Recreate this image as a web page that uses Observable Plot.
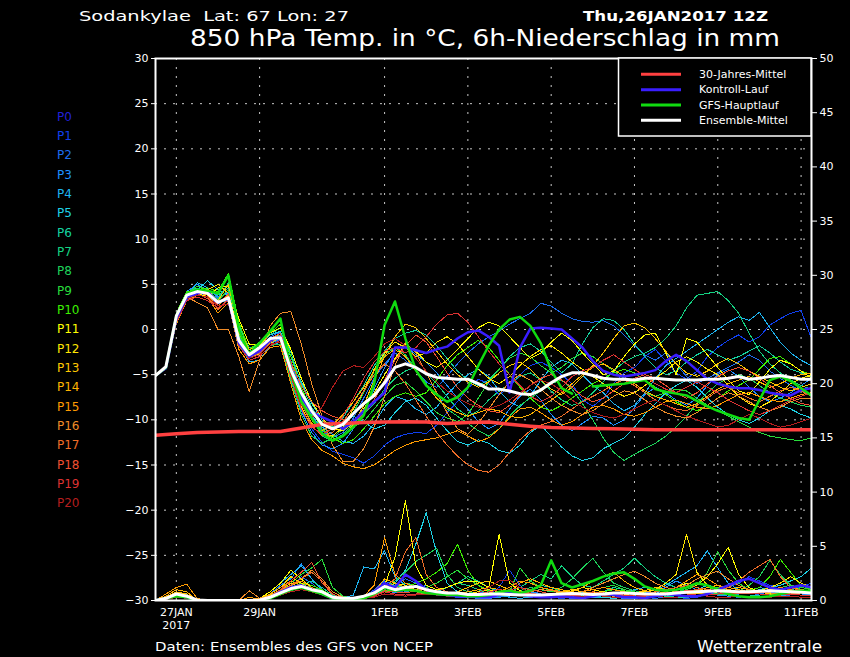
<!DOCTYPE html>
<html><head><meta charset="utf-8">
<script src="https://cdn.jsdelivr.net/npm/d3@7"></script>
<script src="https://cdn.jsdelivr.net/npm/@observablehq/plot@0.6"></script>
<style>
html,body{margin:0;padding:0;background:#000;}
#chart{width:850px;height:657px;position:relative;overflow:hidden;background:#000;}
</style></head><body><div id="chart"></div>
<script>
// ---------- DATA (6-hourly from Thu 26JAN2017 12Z) ----------
const memberNames = ["P0","P1","P2","P3","P4","P5","P6","P7","P8","P9","P10","P11","P12","P13","P14","P15","P16","P17","P18","P19","P20"];
const memberColors = ["#2020d8","#1040f0","#1e6ef0","#1e90ff","#1eb4f0","#1ed2e6","#14d2a0","#14d282","#1ed25a","#28dc3c","#3cf000","#ffff00","#ffe600","#ffc800","#ffb400","#ff9b00","#f08c28","#f06e28","#f05032","#dc3232","#b41e1e"];
const xTickDates = ["2017-01-27","2017-01-29","2017-02-01","2017-02-03","2017-02-05","2017-02-07","2017-02-09","2017-02-11"];
const xTickLabels = ["27JAN\n2017","29JAN","1FEB","3FEB","5FEB","7FEB","9FEB","11FEB"];
const tempTicks = [-30,-25,-20,-15,-10,-5,0,5,10,15,20,25,30];
const precipTicks = [0,5,10,15,20,25,30,35,40,45,50];
const legendLabels = ["30-Jahres-Mittel","Kontroll-Lauf","GFS-Hauptlauf","Ensemble-Mittel"];
const legendColors = ["#ff4040","#3a1eff","#10dc10","#ffffff"];

// Kontroll-Lauf (P0)
const t00 = [-5.1,-4.3,1.2,3.6,4.0,4.2,3.0,3.4,-1.5,-3.0,-2.4,-1.2,-0.8,-4.2,-7.5,-9.2,-9.7,-10.2,-11.0,-10.2,-9.0,-8.0,-7.0,-2.0,-2.0,-2.3,-2.6,-2.2,-1.9,-1.0,-0.3,-0.1,-0.8,-1.8,-7.0,-2.0,0.1,0.2,0.1,0.0,-1.0,-2.0,-3.5,-4.6,-5.0,-5.2,-5.0,-4.8,-4.5,-3.5,-2.8,-3.5,-4.5,-5.5,-6.0,-6.3,-6.5,-6.5,-6.7,-7.0,-7.2,-7.3,-6.7,-6.5,-6.5];
const t01 = [-5.1,-4.4,0.8,3.2,4.0,3.8,2.8,3.6,-1.8,-3.2,-2.5,-1.4,-1.2,-5.0,-8.5,-11.0,-12.5,-13.5,-13.8,-14.2,-14.8,-14.0,-12.8,-12.0,-11.6,-11.4,-11.5,-10.6,-9.2,-8.0,-6.5,-5.5,-6.0,-7.2,-6.4,-5.0,-4.0,-3.6,-4.2,-5.0,-6.0,-7.8,-8.5,-7.6,-6.0,-4.8,-4.2,-3.0,-2.2,-3.5,-4.8,-5.5,-4.6,-3.0,-2.0,-1.2,-0.6,-1.4,-0.8,0.5,1.2,1.8,2.1,-1.0,-1.5];
const t02 = [-5.1,-4.3,1.2,3.8,4.5,4.1,3.5,4.2,-0.5,-2.4,-2.0,-0.8,-0.3,-3.5,-6.8,-9.5,-11.2,-12.0,-11.4,-9.8,-7.6,-5.4,-3.8,-2.6,-3.4,-4.5,-5.8,-6.4,-5.2,-3.8,-2.6,-1.6,-0.8,-0.2,0.6,1.2,1.8,2.9,2.6,1.8,1.2,0.9,0.8,1.0,0.4,-0.6,-1.8,-2.8,-3.4,-2.6,-3.8,-5.2,-6.0,-5.4,-4.8,-4.2,-3.6,-2.8,-3.4,-4.6,-5.4,-6.2,-6.8,-7.2,-7.0];
const t03 = [-5.1,-4.2,1.4,4.2,5.0,4.4,3.6,4.0,-0.8,-2.6,-2.6,-1.6,-1.0,-5.4,-9.0,-11.4,-12.8,-13.2,-12.6,-11.0,-9.2,-6.6,-4.2,-2.2,-1.8,-2.8,-3.6,-4.8,-6.2,-7.6,-8.8,-10.2,-11.0,-10.4,-8.8,-7.4,-6.6,-7.8,-9.4,-10.6,-11.2,-10.4,-9.6,-9.8,-10.6,-10.0,-8.6,-7.2,-6.4,-7.0,-7.8,-8.4,-7.6,-6.2,-5.0,-4.4,-5.2,-6.4,-7.4,-8.0,-7.6,-7.0,-6.2,-5.4,-5.0];
const t04 = [-5.1,-4.3,1.0,3.6,5.2,4.6,3.0,3.4,-1.2,-3.6,-3.4,-1.8,-1.4,-4.6,-7.8,-9.6,-10.8,-11.6,-12.4,-12.6,-11.8,-10.4,-8.6,-7.4,-7.8,-8.8,-9.4,-8.6,-7.2,-6.0,-5.0,-4.4,-5.2,-6.8,-8.0,-8.6,-7.4,-5.6,-4.2,-3.4,-3.8,-5.0,-6.2,-7.0,-8.2,-9.0,-8.4,-7.0,-5.4,-4.0,-3.2,-2.4,-1.6,-0.8,0.0,0.8,1.4,1.0,1.9,0.2,-1.4,-2.6,-3.4,-4.0,-4.2];
const t05 = [-5.1,-4.4,0.6,3.4,4.4,5.4,4.4,3.8,-0.4,-2.2,-1.6,-0.6,-0.2,-3.0,-5.8,-8.2,-10.0,-10.8,-10.2,-9.6,-10.2,-11.0,-10.6,-9.2,-8.0,-7.6,-8.4,-9.8,-11.2,-12.4,-12.8,-12.2,-12.6,-13.4,-13.7,-12.8,-11.4,-10.6,-11.8,-13.0,-14.0,-14.5,-14.2,-13.2,-12.6,-12.0,-10.8,-9.4,-8.2,-7.0,-6.2,-5.6,-6.4,-7.6,-8.6,-9.4,-10.0,-10.4,-9.8,-9.0,-8.4,-8.8,-9.4,-9.8,-10.0];
const t06 = [-5.1,-4.2,1.6,4.0,4.6,4.2,3.8,4.6,0.4,-2.0,-1.8,-0.6,0.2,-2.6,-6.0,-8.6,-10.4,-10.8,-9.8,-8.0,-6.2,-4.0,-2.4,-1.0,-0.4,-0.1,-0.6,-1.8,-3.2,-4.6,-5.6,-6.2,-5.6,-4.4,-3.0,-2.0,-1.6,-2.4,-3.6,-4.8,-3.8,-1.6,0.2,1.2,1.0,0.0,-1.6,-3.0,-4.2,-5.0,-4.6,-3.6,-2.8,-2.2,-2.8,-3.4,-3.0,-2.4,-1.8,-2.6,-3.6,-4.4,-4.8,-5.2,-5.4];
const t07 = [-5.1,-4.3,1.0,3.6,4.2,3.8,3.4,5.2,-0.2,-2.6,-2.2,-1.2,-0.6,-3.6,-7.2,-9.8,-11.8,-12.4,-11.6,-10.4,-9.4,-8.2,-6.6,-5.4,-4.6,-4.2,-4.8,-6.0,-7.4,-8.8,-9.6,-9.0,-7.8,-6.8,-6.0,-5.2,-4.8,-5.6,-6.8,-7.8,-8.4,-8.0,-7.0,-5.8,-4.6,-3.6,-3.0,-2.6,-2.0,-1.0,0.4,2.4,3.8,4.0,4.2,3.2,1.8,-0.4,-2.4,-3.8,-4.8,-5.6,-6.2,-6.6,-6.8];
const t08 = [-5.1,-4.4,1.2,3.8,4.0,4.0,3.0,3.2,-1.6,-3.4,-3.0,-1.8,-1.6,-5.6,-9.4,-11.8,-12.6,-12.0,-11.0,-9.2,-7.0,-4.6,-2.8,-2.0,-2.8,-4.4,-6.0,-7.6,-8.8,-9.6,-10.4,-11.2,-11.8,-11.0,-9.6,-8.4,-7.6,-6.8,-6.0,-5.6,-6.6,-8.2,-10.0,-12.0,-13.6,-14.5,-13.8,-13.2,-12.6,-11.8,-10.8,-9.6,-8.2,-7.0,-6.0,-5.4,-5.0,-5.4,-6.2,-7.0,-7.6,-8.0,-8.4,-8.6,-8.6];
const t09 = [-5.1,-4.3,1.4,4.0,4.8,4.4,3.2,4.4,-0.6,-2.8,-2.4,-1.0,-0.4,-4.2,-7.6,-9.4,-10.2,-10.4,-10.6,-10.8,-10.2,-8.8,-7.4,-6.2,-5.8,-6.8,-8.0,-9.2,-9.8,-10.2,-9.4,-7.6,-5.8,-4.4,-3.2,-2.6,-3.0,-4.0,-4.8,-4.2,-3.2,-2.6,-3.0,-3.8,-4.6,-5.4,-6.2,-7.0,-7.4,-7.0,-6.6,-6.8,-7.6,-8.4,-9.0,-9.6,-10.2,-10.8,-11.4,-11.8,-12.0,-12.2,-12.3,-12.0,-11.8];
const t10 = [-5.1,-4.2,1.8,4.2,4.4,4.6,4.2,6.2,0.8,-2.2,-1.4,-0.4,0.6,-3.0,-6.4,-9.0,-11.0,-12.0,-12.6,-12.2,-11.0,-9.6,-8.2,-7.4,-7.0,-7.4,-7.0,-5.6,-4.0,-2.8,-2.0,-1.2,-2.0,-3.4,-5.0,-6.4,-7.6,-8.6,-9.0,-8.4,-7.6,-6.8,-6.0,-5.4,-4.8,-4.4,-4.8,-5.6,-6.4,-7.2,-8.0,-8.6,-9.0,-8.4,-7.6,-6.8,-6.2,-5.6,-4.4,-3.2,-3.0,-3.8,-4.6,-5.0,-5.2];
const t11 = [-5.1,-4.3,0.8,3.4,4.0,3.6,4.6,4.8,1.2,-1.6,-1.8,-0.4,0.2,-2.2,-5.4,-8.0,-9.8,-11.0,-11.2,-10.4,-8.8,-7.0,-5.0,-3.2,-1.6,-2.4,-3.6,-4.2,-3.4,-2.2,-1.0,0.2,0.8,0.4,-0.8,-2.0,-3.2,-2.6,-1.4,-0.4,-1.2,-2.6,-3.8,-5.0,-4.6,-3.0,-1.6,-0.6,-0.4,-2.6,-5.0,-1.0,-1.4,-2.8,-4.2,-5.6,-6.8,-7.2,-5.8,-4.4,-3.4,-3.8,-4.6,-5.4,-5.6];
const t12 = [-5.1,-4.2,1.2,3.8,4.2,4.4,5.0,4.0,-0.4,-2.4,-2.8,-1.6,-0.8,-4.8,-8.6,-10.8,-11.6,-11.8,-10.8,-8.8,-6.8,-4.4,-2.6,-1.4,-2.0,-3.0,-2.6,-1.4,-0.8,-1.6,-3.0,-4.4,-5.4,-6.0,-5.2,-4.0,-3.0,-2.2,-1.8,-2.6,-3.6,-4.4,-5.2,-6.0,-6.8,-7.4,-7.0,-6.2,-5.4,-4.6,-3.6,-3.0,-3.6,-4.4,-5.0,-6.2,-7.4,-8.2,-8.6,-8.0,-7.0,-6.0,-5.4,-5.0,-4.8];
const t13 = [-5.1,-4.4,1.0,3.6,4.4,4.2,3.2,5.0,0.0,-2.2,-2.0,-1.2,-0.4,-3.8,-7.4,-10.0,-11.4,-12.2,-11.8,-10.6,-8.4,-5.6,-3.0,-0.8,0.6,0.2,-1.0,-2.4,-3.8,-5.0,-5.8,-6.4,-5.8,-4.8,-4.0,-3.6,-4.4,-5.6,-6.6,-7.2,-6.4,-5.2,-4.0,-2.6,-1.0,0.4,0.7,0.2,-1.0,-2.4,-3.8,-4.8,-5.2,-4.6,-3.8,-3.2,-3.8,-4.6,-5.2,-5.8,-6.4,-6.8,-6.4,-6.0,-5.8];
const t14 = [-5.1,-4.3,1.2,3.8,4.2,3.8,2.6,3.8,-1.4,-3.0,-2.8,-1.4,-0.6,-4.4,-8.2,-10.4,-11.2,-10.6,-9.4,-8.0,-6.4,-4.6,-3.0,-2.2,-3.0,-4.6,-6.2,-7.6,-8.6,-9.2,-9.6,-9.2,-8.8,-9.0,-9.6,-9.8,-9.4,-8.6,-7.8,-7.0,-6.0,-5.0,-4.2,-3.8,-4.4,-5.2,-6.0,-6.8,-7.4,-7.8,-8.2,-8.6,-8.2,-7.4,-6.6,-6.0,-5.6,-5.2,-5.8,-6.4,-6.0,-5.4,-5.0,-4.8,-4.8];
const t15 = [-5.1,-4.4,0.6,3.2,3.8,3.6,1.8,3.0,-2.2,-3.8,-3.4,-2.0,-1.8,-6.0,-10.0,-12.2,-13.4,-14.0,-14.8,-15.2,-15.4,-15.0,-14.2,-13.4,-12.8,-12.4,-12.2,-12.0,-11.6,-11.2,-11.8,-12.4,-12.0,-11.0,-9.8,-8.8,-8.6,-9.2,-10.0,-10.6,-10.2,-9.4,-8.6,-8.4,-8.8,-9.4,-9.6,-9.2,-8.6,-8.0,-7.8,-8.2,-8.6,-8.8,-8.4,-7.8,-7.2,-7.0,-7.4,-7.8,-8.0,-7.6,-7.2,-7.0,-7.0];
const t16 = [-5.1,-4.3,1.0,3.6,3.0,2.4,0.0,0.0,-3.0,-6.9,-3.4,0.4,1.8,2.0,-1.6,-6.0,-9.6,-12.8,-14.6,-14.6,-13.2,-10.8,-7.4,-4.0,-1.4,-2.6,-4.8,-7.0,-9.2,-11.0,-11.6,-10.4,-8.8,-7.2,-5.8,-5.0,-5.6,-6.6,-7.6,-8.4,-9.0,-9.4,-9.0,-8.2,-7.4,-6.8,-7.0,-7.8,-8.6,-9.2,-9.6,-9.8,-9.2,-8.4,-7.6,-7.0,-7.4,-8.0,-8.6,-9.0,-8.6,-8.0,-7.6,-7.6,-7.6];
const t17 = [-5.1,-4.2,1.4,3.8,4.4,3.6,2.2,3.4,-1.0,-3.0,-2.6,-1.4,-0.8,-4.6,-8.0,-10.6,-11.8,-11.4,-10.2,-8.6,-6.8,-5.0,-3.8,-4.6,-6.0,-7.8,-9.6,-11.4,-12.8,-14.0,-15.0,-15.6,-15.8,-15.0,-13.6,-12.2,-11.2,-10.6,-10.2,-9.6,-8.8,-8.0,-7.4,-6.8,-6.0,-5.6,-6.2,-7.0,-7.8,-8.4,-8.8,-9.0,-8.4,-7.6,-6.8,-6.4,-7.0,-7.6,-8.0,-7.4,-6.8,-6.4,-6.8,-7.4,-7.6];
const t18 = [-5.1,-4.3,1.2,3.6,4.0,3.4,2.8,4.0,-1.2,-2.8,-2.2,-1.0,-0.4,-3.6,-6.2,-8.0,-9.0,-9.6,-10.0,-10.2,-9.4,-7.8,-5.6,-3.4,-1.8,-0.6,-1.4,-3.0,-4.8,-6.4,-7.6,-8.4,-9.0,-9.2,-8.4,-7.2,-6.2,-5.4,-5.0,-5.6,-6.4,-7.4,-8.0,-7.6,-6.8,-6.0,-5.4,-5.0,-5.4,-6.2,-7.0,-7.6,-7.0,-6.0,-5.2,-4.6,-4.2,-4.6,-5.4,-6.2,-7.0,-7.6,-8.2,-8.4,-8.4];
const t19 = [-5.1,-4.4,0.8,3.2,3.6,3.2,2.4,3.2,-1.8,-3.4,-3.0,-1.8,-1.2,-5.2,-8.8,-10.8,-11.6,-11.0,-9.6,-7.6,-5.4,-3.6,-2.4,-2.0,-2.6,-2.0,-0.8,0.6,1.6,1.8,0.8,-0.8,-2.4,-3.8,-5.0,-6.2,-7.4,-8.0,-7.4,-6.4,-5.2,-4.6,-4.2,-3.4,-2.8,-3.6,-4.4,-5.2,-6.0,-6.6,-7.0,-6.4,-5.8,-6.4,-7.0,-7.8,-8.4,-9.0,-9.4,-9.0,-8.4,-7.8,-7.4,-7.0,-7.0];
const t20 = [-5.1,-4.3,1.0,3.4,3.8,3.6,2.6,2.8,-1.4,-3.2,-2.8,-1.6,-1.4,-5.0,-8.4,-9.8,-8.6,-6.4,-4.6,-4.0,-4.2,-3.0,-1.6,-1.0,-1.8,-3.2,-4.6,-5.8,-6.8,-7.6,-8.2,-8.6,-8.8,-8.4,-7.8,-7.0,-6.2,-5.6,-6.0,-6.8,-7.8,-8.6,-9.2,-9.6,-9.8,-9.4,-8.8,-8.2,-7.8,-8.4,-9.0,-9.6,-10.0,-10.4,-10.8,-10.6,-10.0,-9.4,-9.8,-10.4,-10.8,-10.6,-10.2,-9.8,-9.6];
// GFS-Hauptlauf (NaN = gap)
const gfsTemp = [-5.1,-4.2,1.5,3.9,4.4,4.3,4.0,6.0,0.0,-2.7,-1.5,-0.2,1.2,-4.5,-8.0,-9.8,-11.5,-12.3,-11.8,-10.8,-9.5,-6.0,0.5,3.1,-1.0,-4.5,-6.2,-7.2,-8.0,-7.5,-6.4,-4.0,-1.8,0.0,1.1,1.4,0.4,-1.5,-4.5,-6.5,-7.1,NaN,-6.3,-6.2,-6.1,-6.0,-5.8,-5.6,-6.6,-6.9,-7.1,-7.3,-7.9,-8.5,-9.0,-9.4,-9.8,-10.0,-7.8,-5.6,-5.2,-5.7,-6.5,-7.3,-7.5];
// Ensemble-Mittel
const meanTemp = [-5.1,-4.1,1.5,3.8,4.2,4.0,3.0,3.5,-1.2,-2.8,-2.0,-1.0,-0.9,-4.5,-7.0,-9.0,-10.5,-11.0,-10.5,-9.3,-8.2,-7.3,-5.9,-4.2,-3.8,-4.2,-4.9,-5.3,-5.4,-5.5,-5.5,-6.0,-6.6,-6.6,-6.8,-7.1,-7.2,-6.7,-5.9,-5.2,-4.8,-4.8,-5.1,-5.4,-5.5,-5.5,-5.6,-5.4,-5.4,-5.5,-5.6,-5.6,-5.6,-5.5,-5.5,-5.4,-5.2,-5.5,-5.4,-5.2,-5.1,-5.3,-5.5,-5.5,-5.5];
// 30-Jahres-Mittel (12-hourly)
const climTemp = [-11.7,-11.55,-11.4,-11.35,-11.3,-11.3,-11.3,-10.9,-10.5,-10.4,-10.3,-10.25,-10.2,-10.25,-10.4,-10.3,-10.25,-10.5,-10.7,-10.85,-10.9,-10.95,-11.0,-11.05,-11.1,-11.1,-11.1,-11.1,-11.1,-11.1,-11.1,-11.1,-11.1];

// 6h precipitation (mm)
const p00 = [0,0.2,0.5,0.3,0,0,0,0,0,0,0,0.3,0.8,1.2,1.4,1.0,0.6,0.2,0.1,0.1,0.3,0.8,1.6,1.2,2.4,1.8,1.0,0.6,0.5,0.4,0.4,0.3,0.3,0.5,0.8,0.6,0.4,0.3,0.3,0.4,0.3,0.2,0.4,0.6,0.5,0.3,0.3,0.2,0.4,0.6,0.5,0.4,0.4,0.6,1.0,1.4,1.8,2.0,1.6,1.2,1.0,1.2,1.4,1.2,1.0];
const p01 = [0,0.1,0.4,0.3,0,0,0,0,0,0,0.1,0.5,1.0,1.8,1.4,0.8,0.5,0.2,0.1,0.1,0.2,0.6,1.2,0.8,0.9,1.4,1.2,0.7,0.4,0.3,0.3,0.4,0.6,1.2,2.8,1.4,0.6,0.4,0.3,0.2,0.3,0.5,0.4,0.3,0.2,0.3,0.5,0.8,0.6,0.4,0.3,0.2,0.3,0.6,0.9,1.2,1.6,2.2,1.8,1.4,1.2,1.0,1.3,1.6,1.4];
const p02 = [0,0.2,0.5,0.4,0,0,0,0,0,0,0,0.3,0.7,1.2,2.2,1.6,0.8,0.3,0.1,0.1,0.3,1.0,1.8,1.4,2.0,1.6,1.0,0.8,0.6,0.5,0.6,0.8,0.6,0.4,0.5,0.7,0.9,0.6,0.4,0.3,0.2,0.2,0.3,0.5,0.7,0.6,0.4,0.3,0.2,0.3,0.5,0.8,1.0,0.8,0.6,0.4,0.3,0.4,0.6,0.8,0.6,0.4,0.3,0.3,0.3];
const p03 = [0,0.2,0.6,0.5,0,0,0,0,0,0,0.1,0.6,1.4,2.0,3.4,2.0,1.0,0.4,0.2,0.1,0.2,0.5,1.0,0.7,0.8,1.0,1.4,1.0,0.6,0.4,0.3,0.2,0.2,0.3,0.4,0.6,0.8,0.6,0.4,0.4,0.5,0.7,0.6,0.4,0.3,0.2,0.2,0.3,0.6,1.2,1.8,1.4,1.0,0.7,0.5,0.4,0.6,0.9,1.2,1.0,0.8,0.6,0.5,0.6,0.6];
const p04 = [0,0.3,0.8,0.5,0,0,0,0,0,0,0.2,0.8,1.6,2.4,3.2,2.0,0.9,0.4,0.2,0.5,3.1,2.9,4.6,2.2,1.4,1.0,0.8,0.6,0.5,0.4,0.4,0.5,0.6,0.5,0.3,0.2,0.3,0.4,0.6,0.8,0.6,0.4,0.3,0.3,0.5,0.8,1.0,1.2,1.0,1.4,2.0,2.6,3.2,4.6,3.0,1.6,1.0,0.8,0.6,0.5,0.4,0.6,0.8,1.0,1.0];
const p05 = [0,0.2,0.5,0.3,0,0,0,0,0,0,0,0.3,0.8,1.4,2.0,1.2,0.7,0.3,0.1,0.1,0.2,0.4,0.8,1.6,2.8,5.2,8.1,4.4,1.6,0.8,0.6,0.4,0.3,0.4,0.6,0.8,0.6,0.4,0.3,0.3,0.4,0.5,0.4,0.3,0.2,0.3,0.4,0.6,0.5,0.4,0.5,0.7,1.0,1.4,1.2,0.9,0.7,0.8,1.0,1.2,1.4,1.8,2.2,3.0,2.4];
const p06 = [0,0.2,0.4,0.3,0,0,0,0,0,0,0,0.2,0.6,1.0,1.4,1.8,1.2,0.5,0.2,0.1,0.2,0.5,1.0,1.4,1.2,0.9,0.7,0.8,1.2,1.6,2.2,1.8,1.2,0.8,0.6,0.7,1.0,1.4,1.2,0.8,0.6,0.5,0.6,0.8,1.2,1.0,0.8,0.6,0.5,0.4,0.3,0.3,0.4,0.5,0.6,0.5,0.4,0.4,0.5,0.6,0.8,1.0,0.9,0.8,0.8];
const p07 = [0,0.1,0.3,0.2,0,0,0,0,0,0,0,0.2,0.5,0.9,1.2,1.0,0.8,0.4,0.2,0.1,0.2,0.4,0.9,1.2,1.6,1.4,1.0,0.9,1.2,1.6,1.4,1.0,0.6,0.5,0.8,1.2,1.8,2.4,2.0,3.2,2.2,1.4,1.2,1.8,2.4,3.0,3.9,3.0,2.2,1.6,1.2,0.9,0.7,0.8,1.0,1.2,1.0,0.8,0.6,0.5,0.6,0.8,0.7,0.6,0.6];
const p08 = [0,0.2,0.4,0.3,0,0,0,0,0,0,0,0.3,0.6,1.0,1.4,1.2,0.9,0.4,0.2,0.1,0.2,0.5,1.2,1.8,2.6,3.6,4.2,4.8,2.4,1.2,0.8,0.6,0.5,0.4,0.6,0.9,1.2,1.0,0.8,1.2,2.0,3.0,3.9,2.6,1.6,1.2,0.9,0.7,0.6,0.5,0.6,0.8,1.0,0.8,0.6,0.5,0.8,1.4,2.2,3.7,2.4,1.4,1.0,0.8,0.8];
const p09 = [0,0.3,0.6,0.4,0,0,0,0,0,0,0.1,0.4,0.9,1.6,2.4,3.0,3.8,1.2,0.4,0.2,0.3,0.6,1.0,0.8,0.7,0.9,1.2,1.6,2.2,2.8,2.0,1.4,0.9,0.6,0.8,3.0,1.8,1.2,0.9,0.7,0.6,0.8,1.0,1.2,1.4,1.0,0.8,0.6,0.5,0.6,0.8,1.0,1.4,2.6,4.5,2.8,1.6,1.0,0.8,0.9,1.2,1.4,1.2,1.0,1.0];
const p10 = [0,0.2,0.5,0.4,0,0,0,0,0,0,0,0.3,0.8,1.2,1.6,1.4,1.0,0.4,0.2,0.1,0.2,0.4,0.8,1.0,1.2,1.6,2.0,2.6,3.4,5.2,2.8,1.4,0.8,0.6,0.5,0.6,0.8,1.0,0.9,0.7,0.6,0.5,0.6,0.8,1.0,0.9,0.7,0.6,0.5,0.6,0.7,0.8,0.9,1.0,1.2,1.0,0.8,0.9,1.2,2.2,3.8,2.6,1.4,1.0,1.0];
const p11 = [0,0.2,0.6,0.5,0,0,0,0,0,0,0.2,0.8,1.6,2.8,2.0,1.2,0.7,0.3,0.1,0.1,0.2,0.6,1.4,4.0,9.2,3.2,1.4,1.0,1.2,1.6,1.8,1.7,1.2,6.1,1.6,0.9,0.6,0.5,0.4,0.4,0.5,0.6,0.8,0.6,0.5,0.4,0.4,0.5,0.6,0.8,1.2,1.6,1.4,2.2,3.4,4.9,2.4,1.2,0.8,0.6,0.7,0.9,1.0,0.9,0.9];
const p12 = [0,0.2,0.5,0.4,0,0,0,0,0,0,0.1,0.6,1.2,2.2,1.6,1.0,0.6,0.3,0.1,0.1,0.2,0.5,1.2,1.6,1.4,1.0,0.8,0.6,0.5,0.5,0.6,0.8,1.0,0.8,0.6,0.5,0.4,0.4,0.5,0.7,0.9,1.2,1.0,0.8,0.7,0.6,0.6,0.8,1.0,1.6,2.4,6.1,2.6,1.4,0.9,0.7,0.6,0.7,0.9,1.2,1.6,2.2,1.6,1.2,1.2];
const p13 = [0,0.3,0.8,0.6,0,0,0,0,0,0,0.1,0.5,1.0,1.6,1.2,0.8,0.5,0.2,0.1,0.1,0.2,0.6,1.6,1.2,1.0,0.8,0.6,0.5,0.6,0.8,1.2,1.6,1.8,1.4,1.0,0.8,0.6,0.5,0.6,0.8,1.0,0.8,0.6,0.5,0.4,0.5,0.7,0.9,1.2,1.0,0.8,0.7,0.6,0.6,0.8,1.0,1.2,1.0,0.8,0.6,0.5,0.6,0.8,0.8,0.8];
const p14 = [0,0.4,1.0,0.8,0,0,0,0,0,0,0.2,0.6,1.2,1.8,1.4,0.9,0.6,0.3,0.1,0.1,0.3,0.8,2.0,1.6,1.2,1.0,0.8,0.7,0.6,0.6,0.8,1.0,1.2,1.0,0.8,1.6,2.0,1.6,1.2,1.0,0.8,1.2,1.8,2.2,2.6,1.8,1.2,0.9,0.7,0.6,0.6,0.7,0.9,1.2,1.4,1.2,1.0,0.8,0.7,0.8,1.0,1.2,1.0,0.8,0.8];
const p15 = [0,0.6,1.2,1.5,0.2,0,0,0,0,0.3,0.1,0.4,1.0,1.4,1.8,1.2,0.8,0.3,0.1,0.1,0.4,1.4,5.8,2.4,1.6,1.2,0.9,0.7,0.6,0.5,0.4,0.4,0.5,0.8,1.2,1.8,1.6,1.2,1.0,0.8,0.7,0.8,1.0,1.2,1.0,0.8,0.6,0.5,0.6,0.8,1.2,1.8,2.4,2.0,1.4,1.0,0.8,0.7,0.8,1.0,1.2,1.0,0.8,0.7,0.7];
const p16 = [0,0.3,0.7,0.5,0,0,0,0,0,0.9,0.2,0.4,0.9,1.4,2.0,2.8,2.0,0.8,0.3,0.2,0.3,0.7,1.6,1.2,1.0,0.8,0.6,0.5,0.4,0.4,0.5,0.6,0.8,0.7,0.6,0.6,0.8,1.0,0.9,0.8,0.7,0.8,1.2,1.6,2.0,2.4,2.7,2.2,1.6,1.2,1.0,1.4,2.0,2.4,2.7,2.0,1.4,1.0,0.8,0.7,0.6,0.6,0.7,0.7,0.7];
const p17 = [0,0.2,0.4,0.3,0,0,0,0,0,0,0.1,0.4,0.8,1.4,2.0,2.6,1.8,0.6,0.2,0.1,0.2,0.5,1.2,2.0,4.5,5.8,2.4,1.2,0.8,0.6,0.5,0.4,0.5,0.7,1.0,0.8,0.6,0.5,0.4,0.4,0.5,0.6,0.8,0.7,0.6,0.5,0.5,0.6,0.8,1.0,1.2,1.4,1.2,1.0,0.9,1.2,1.8,2.6,3.2,3.8,2.2,1.2,0.9,0.8,0.7];
const p18 = [0,0.2,0.5,0.4,0,0,0,0,0,0,0.1,0.4,1.0,1.8,2.6,3.5,1.6,0.6,0.2,0.1,0.2,0.4,0.9,0.8,0.7,0.9,1.1,0.9,0.7,0.6,0.5,0.5,0.6,0.8,1.0,1.2,1.0,0.8,0.6,0.5,0.5,0.6,0.7,0.6,0.5,0.4,0.4,0.5,0.6,0.7,0.8,0.9,1.0,0.9,0.8,0.7,0.6,0.6,0.7,0.8,0.9,0.8,0.7,0.6,0.6];
const p19 = [0,0.2,0.6,0.4,0,0,0,0,0,0,0.1,0.3,0.7,1.0,1.2,1.0,0.6,0.3,0.1,0.1,0.2,0.4,0.8,0.6,0.5,0.6,0.8,0.7,0.6,0.5,0.5,0.6,0.8,1.0,0.9,0.7,0.6,0.5,0.5,0.6,0.5,0.4,0.4,0.5,0.6,0.5,0.4,0.4,0.5,0.6,0.7,0.6,0.5,0.5,0.6,0.7,0.8,0.7,0.6,0.5,0.5,0.6,0.5,0.5,0.5];
const p20 = [0,0.1,0.3,0.2,0,0,0,0,0,0,0,0.2,0.5,0.8,1.0,0.8,0.5,0.2,0.1,0.1,0.2,0.3,0.6,0.5,0.4,0.5,0.6,0.5,0.4,0.4,0.5,0.7,1.2,1.8,1.9,1.2,0.7,0.5,0.4,0.3,0.3,0.4,0.5,0.4,0.3,0.3,0.4,0.5,0.4,0.3,0.3,0.4,0.5,0.4,0.3,0.3,0.4,0.4,0.3,0.3,0.4,0.4,0.3,0.3,0.3];
const gfsPrecip = [0,0.2,0.4,0.3,0,0,0,0,0,0,0,0.2,0.6,1.0,1.2,0.9,0.6,0.2,0.1,0.1,0.2,0.6,1.2,0.9,1.0,0.9,0.7,0.6,0.5,0.5,0.4,0.4,0.5,0.8,0.9,0.7,0.9,1.4,3.7,1.6,1.2,1.5,1.8,2.2,2.5,2.6,2.0,1.3,1.0,0.9,1.0,1.2,1.6,1.4,1.0,0.6,0.4,0.3,0.3,0.4,0.6,0.8,0.9,0.9,0.9];
const meanPrecip = [0,0.2,0.6,0.4,0.05,0,0,0,0,0,0.05,0.3,0.7,1.1,1.3,1.0,0.8,0.3,0.2,0.2,0.4,0.7,1.3,1.0,1.2,1.3,1.0,0.8,0.7,0.7,0.55,0.55,0.6,0.6,0.55,0.5,0.5,0.5,0.55,0.6,0.65,0.6,0.55,0.6,0.7,0.7,0.65,0.6,0.6,0.6,0.7,0.75,0.8,0.85,0.9,0.85,0.8,0.8,0.85,0.9,0.85,0.8,0.75,0.7,0.7];

// ---------- BUILD ----------
const start = Date.UTC(2017,0,26,12);
const H = 3600e3;
const at = h => new Date(start + h*H);
const mmToY = mm => -30 + mm*60/50; // precip axis (0..50 mm) on the same frame as -30..30 °C

const temps = [t00,t01,t02,t03,t04,t05,t06,t07,t08,t09,t10,t11,t12,t13,t14,t15,t16,t17,t18,t19,t20];
const precs = [p00,p01,p02,p03,p04,p05,p06,p07,p08,p09,p10,p11,p12,p13,p14,p15,p16,p17,p18,p19,p20];

const thinT = [], thinP = [];
for (let m = 1; m < temps.length; m++) {
  temps[m].forEach((v,i)=>thinT.push({m, time: at(i*6), v}));
  precs[m].forEach((v,i)=>thinP.push({m, time: at(i*6), v: mmToY(v)}));
}
const series = (arr, step, f = v => v) => arr.map((v,i)=>({time: at(i*step), v: f(v)}));

const tickDates = xTickDates.map(s => new Date(s + "T00:00:00Z"));
const labelOf = new Map(tickDates.map((d,i)=>[+d, xTickLabels[i]]));
const gridTemps = tempTicks.filter(v => v > -30 && v < 30);
const crisp = "crispEdges";

const plot = Plot.plot({
  width: 850, height: 657,
  marginLeft: 155, marginRight: 39, marginTop: 58, marginBottom: 57,
  style: {background: "#000", color: "#fff", fontFamily: "DejaVu Sans, sans-serif", fontSize: "11px", overflow: "visible"},
  x: {type: "utc", domain: [at(0), at(378)]},
  y: {domain: [-30, 30]},
  color: {type: "identity"},
  marks: [
    Plot.ruleY(gridTemps, {stroke: "#c8c8c8", strokeDasharray: "2,7", strokeWidth: 1}),
    Plot.ruleX(tickDates, {stroke: "#c8c8c8", strokeDasharray: "2,7", strokeWidth: 1}),
    Plot.line(thinP, {x: "time", y: "v", z: "m", stroke: d => memberColors[d.m], strokeWidth: 1, clip: true, shapeRendering: crisp}),
    Plot.line(thinT, {x: "time", y: "v", z: "m", stroke: d => memberColors[d.m], strokeWidth: 1, clip: true, shapeRendering: crisp}),
    Plot.line(series(p00, 6, mmToY), {x: "time", y: "v", stroke: legendColors[1], strokeWidth: 2.5, clip: true}),
    Plot.line(series(gfsPrecip, 6, mmToY), {x: "time", y: "v", stroke: legendColors[2], strokeWidth: 2.5, clip: true}),
    Plot.line(series(t00, 6), {x: "time", y: "v", stroke: legendColors[1], strokeWidth: 2.5, clip: true}),
    Plot.line(series(gfsTemp, 6), {x: "time", y: "v", stroke: legendColors[2], strokeWidth: 2.5, clip: true}),
    Plot.line(series(climTemp, 12), {x: "time", y: "v", stroke: legendColors[0], strokeWidth: 3.5, clip: true}),
    Plot.line(series(meanPrecip, 6, mmToY), {x: "time", y: "v", stroke: legendColors[3], strokeWidth: 3, clip: true}),
    Plot.line(series(meanTemp, 6), {x: "time", y: "v", stroke: legendColors[3], strokeWidth: 3, clip: true}),
    Plot.frame({stroke: "#fff", strokeWidth: 2}),
    Plot.axisY({anchor: "left", ticks: tempTicks, tickSize: 4, tickPadding: 3, label: null, fontSize: 11}),
    Plot.axisY({anchor: "right", ticks: precipTicks.map(mmToY), tickFormat: v => String(Math.round((v + 30) * 50 / 60)), tickSize: 5, tickPadding: 3, label: null, fontSize: 11}),
    Plot.axisX({ticks: tickDates, tickFormat: d => labelOf.get(+d), tickSize: 0, tickPadding: 7, label: null, fontSize: 11, lineHeight: 1.15})
  ]
});
document.getElementById("chart").appendChild(plot);

// ---------- TEXT / LEGEND ----------
const svg = d3.select(plot);
const txt = (x, y, s, size, opts = {}) => {
  const t = svg.append("text").attr("x", x).attr("y", y).text(s)
    .attr("text-anchor", "start")
    .attr("fill", opts.fill || "#fff").attr("font-size", size)
    .attr("font-family", "DejaVu Sans, sans-serif")
    .style("white-space", "pre");
  if (opts.len) t.attr("textLength", opts.len).attr("lengthAdjust", "spacingAndGlyphs");
  if (opts.weight) t.attr("font-weight", opts.weight);
  if (opts.mid) t.attr("dominant-baseline", "central");
  return t;
};
txt(79, 21, "Sodankylae  Lat: 67 Lon: 27", 14, {len: 270});
txt(583, 21, "Thu,26JAN2017 12Z", 14, {len: 185, weight: "bold"});
txt(190, 46, "850 hPa Temp. in °C, 6h-Niederschlag in mm", 23, {len: 590});

memberNames.forEach((n, i) => {
  txt(57, 116.7 + i * 19.33, n, 12, {fill: memberColors[i], mid: true});
});

const lg = svg.append("g");
lg.append("rect").attr("x", 618.5).attr("y", 58).attr("width", 192.5).attr("height", 78)
  .attr("fill", "#000").attr("stroke", "#fff").attr("stroke-width", 1.5);
legendLabels.forEach((s, i) => {
  const y = 74.3 + i * 15.35;
  lg.append("line").attr("x1", 641).attr("x2", 681).attr("y1", y).attr("y2", y)
    .attr("stroke", legendColors[i]).attr("stroke-width", 3);
  lg.append("text").attr("x", 699).attr("y", y).attr("dominant-baseline", "central")
    .attr("text-anchor", "start")
    .attr("fill", "#fff").attr("font-size", 11).attr("font-family", "DejaVu Sans, sans-serif").text(s);
});

txt(155, 651, "Daten: Ensembles des GFS von NCEP", 12, {len: 278});
txt(697, 652, "Wetterzentrale", 16, {len: 125});
</script></body></html>
